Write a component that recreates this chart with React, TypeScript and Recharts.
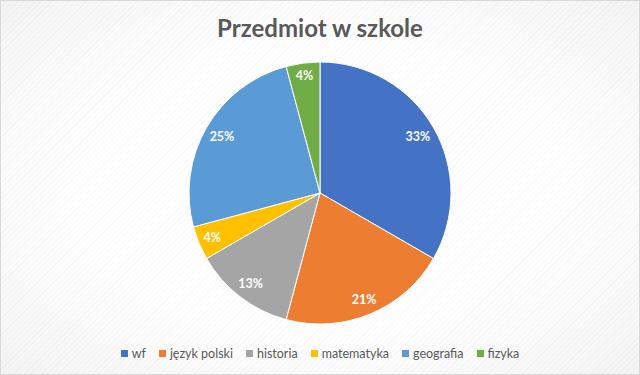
import { Cell, Legend, Pie, PieChart } from "recharts";

const subjects = ["wf", "język polski", "historia", "matematyka", "geografia", "fizyka"];
const counts = [8, 5, 3, 1, 6, 1];
const colors = ["#4472C4", "#ED7D31", "#A5A5A5", "#FFC000", "#5B9BD5", "#70AD47"];

const data = subjects.map((name, i) => ({ name, value: counts[i] }));
const total = counts.reduce((a, b) => a + b, 0);

const RADIAN = Math.PI / 180;

// "best fit" style: push the label box inward until it fits in the slice
function renderLabel(props: any) {
  const { cx, cy, midAngle, outerRadius, value } = props;
  const text = `${Math.round((value / total) * 100)}%`;
  const w = text.length * 7.2;
  const h = 14;
  const ux = Math.cos(-midAngle * RADIAN);
  const uy = Math.sin(-midAngle * RADIAN);
  const r = outerRadius - 5 - (Math.abs(ux) * w) / 2 - (Math.abs(uy) * h) / 2;
  return (
    <text
      x={cx + r * ux}
      y={cy + r * uy}
      fill="#ffffff"
      fontSize={12.5}
      fontWeight={700}
      fontFamily="Lato, 'Open Sans', sans-serif"
      textAnchor="middle"
      dominantBaseline="central"
    >
      {text}
    </text>
  );
}

function LegendContent() {
  return (
    <div
      style={{
        display: "flex",
        justifyContent: "center",
        gap: 13,
        fontFamily: "Lato, 'Open Sans', sans-serif",
        fontSize: 12.5,
        color: "#595959",
      }}
    >
      {subjects.map((s, i) => (
        <span key={s} style={{ display: "flex", alignItems: "center" }}>
          <span
            style={{
              width: 7,
              height: 7,
              background: colors[i],
              marginRight: 4,
              display: "inline-block",
            }}
          />
          {s}
        </span>
      ))}
    </div>
  );
}

export default function App() {
  return (
    <div
      style={{
        position: "absolute",
        left: 0,
        top: 0,
        width: 638,
        height: 373,
        border: "1px solid #d9d9d9",
        background:
          "repeating-linear-gradient(135deg, rgba(0,0,0,0.025) 0px, rgba(0,0,0,0.025) 1px, rgba(255,255,255,0) 1px, rgba(255,255,255,0) 4px), radial-gradient(ellipse at 50% 50%, #ffffff 55%, #f4f4f4 100%)",
      }}
    >
      <div
        style={{
          position: "absolute",
          top: 12,
          width: "100%",
          textAlign: "center",
          fontFamily: "Lato, 'Open Sans', sans-serif",
          fontWeight: 700,
          fontSize: 24,
          color: "#595959",
        }}
      >
        Przedmiot w szkole
      </div>
      <PieChart
        width={638}
        height={373}
        margin={{ top: 0, right: 0, bottom: 0, left: 0 }}
        style={{ position: "absolute", left: 0, top: 0 }}
      >
        <Pie
          data={data}
          dataKey="value"
          nameKey="name"
          cx={319}
          cy={192}
          outerRadius={131}
          startAngle={90}
          endAngle={-270}
          stroke="#ffffff"
          strokeWidth={1}
          label={renderLabel}
          labelLine={false}
          isAnimationActive={false}
        >
          {data.map((d, i) => (
            <Cell key={d.name} fill={colors[i]} />
          ))}
        </Pie>
        <Legend
          verticalAlign="bottom"
          content={LegendContent}
          wrapperStyle={{ bottom: 13 }}
        />
      </PieChart>
    </div>
  );
}
